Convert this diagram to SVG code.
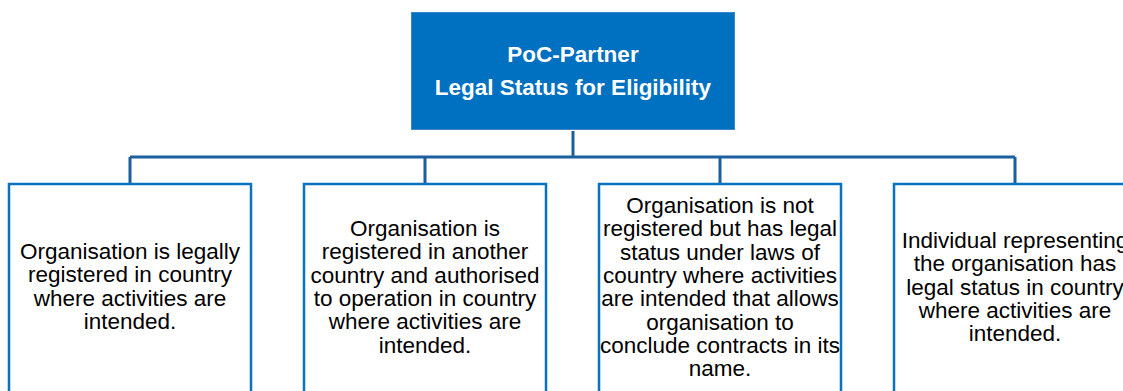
<svg xmlns="http://www.w3.org/2000/svg" width="1123" height="391" viewBox="0 0 1123 391">
<style>
.conn{fill:none;stroke:#1B5F9E;stroke-width:3}
.box{fill:#fff;stroke:#0B72C0;stroke-width:2.5}
.top{fill:#0070C0;stroke:#3C85C6;stroke-width:1}
.t{font-family:"Liberation Sans",Arial,sans-serif;font-size:22.5px;fill:#000;text-anchor:middle}
.h{font-family:"Liberation Sans",Arial,sans-serif;font-size:22.5px;font-weight:bold;fill:#fff;text-anchor:middle}
</style>
<rect width="1123" height="391" fill="#fff"/>
<g id="connectors">
<path class="conn" d="M573 131V157M130 157H1015M130 157V184M425 157V184M720 157V184M1015 157V184"/>
</g>
<g id="root">
<rect class="top" x="411.5" y="12.5" width="323" height="117"/>
<text class="h" x="573" y="61.5">PoC-Partner</text>
<text class="h" x="573" y="94.5">Legal Status for Eligibility</text>
</g>
<g id="n1">
<rect class="box" x="9" y="184" width="242" height="220"/>
<text class="t" x="130" y="259">Organisation is legally</text>
<text class="t" x="130" y="282.3">registered in country</text>
<text class="t" x="130" y="305.6">where activities are</text>
<text class="t" x="130" y="328.9">intended.</text>
</g>
<g id="n2">
<rect class="box" x="304" y="184" width="242" height="220"/>
<text class="t" x="425" y="236">Organisation is</text>
<text class="t" x="425" y="259.3">registered in another</text>
<text class="t" x="425" y="282.6">country and authorised</text>
<text class="t" x="425" y="305.9">to operation in country</text>
<text class="t" x="425" y="329.2">where activities are</text>
<text class="t" x="425" y="352.5">intended.</text>
</g>
<g id="n3">
<rect class="box" x="599" y="184" width="242" height="220"/>
<text class="t" x="720" y="213">Organisation is not</text>
<text class="t" x="720" y="236.3">registered but has legal</text>
<text class="t" x="720" y="259.6">status under laws of</text>
<text class="t" x="720" y="282.9">country where activities</text>
<text class="t" x="720" y="306.2">are intended that allows</text>
<text class="t" x="720" y="329.5">organisation to</text>
<text class="t" x="720" y="352.8">conclude contracts in its</text>
<text class="t" x="720" y="376.1">name.</text>
</g>
<g id="n4">
<rect class="box" x="894" y="184" width="242" height="220"/>
<text class="t" x="1015" y="248">Individual representing</text>
<text class="t" x="1015" y="271.3">the organisation has</text>
<text class="t" x="1015" y="294.6">legal status in country</text>
<text class="t" x="1015" y="317.9">where activities are</text>
<text class="t" x="1015" y="341.2">intended.</text>
</g>
</svg>
